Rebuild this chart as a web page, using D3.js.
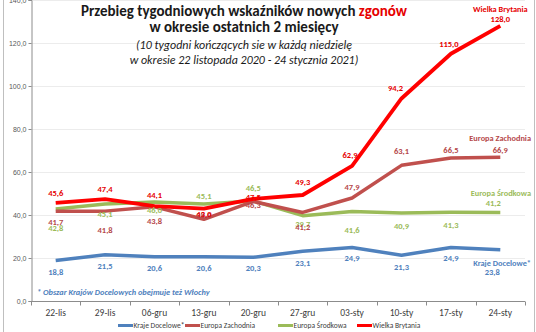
<!DOCTYPE html>
<html><head><meta charset="utf-8">
<script src="https://cdn.jsdelivr.net/npm/d3@7"></script>
<style>
html,body{margin:0;padding:0;background:#fff;}
svg{display:block;font-family:Carlito,Calibri,Lato,"Open Sans",sans-serif;}
</style></head>
<body><svg id="c" width="536" height="332"></svg>
<script>
const categories = ["22-lis","29-lis","06-gru","13-gru","20-gru","27-gru","03-sty","10-sty","17-sty","24-sty"];
const krajeDocelowe   = [18.8, 21.5, 20.6, 20.6, 20.3, 23.1, 24.9, 21.3, 24.9, 23.8];
const europaZachodnia = [41.7, 41.8, 43.8, 38.0, 46.3, 41.2, 47.9, 63.1, 66.5, 66.9];
const europaSrodkowa  = [42.8, 45.1, 46.0, 45.1, 46.5, 39.7, 41.6, 40.9, 41.3, 41.2];
const wielkaBrytania  = [45.6, 47.4, 44.1, 43.0, 47.5, 49.3, 62.9, 94.2, 115.0, 128.0];
const seriesNames = ["Kraje Docelowe*", "Europa Zachodnia", "Europa Środkowa", "Wielka Brytania"];
const yTicks = [0, 20, 40, 60, 80, 100, 120, 140];

const svg = d3.select("#c");
const W = 536, H = 332;
const m = {left: 31, right: 525, top: 0, bottom: 301};

const x = d3.scalePoint().domain(categories).range([m.left, m.right]).padding(0.5);
const y = d3.scaleLinear().domain([0, 140]).range([m.bottom, m.top]);
const fmt = v => d3.format(".1f")(v).replace(".", ",");

// outer frame
svg.append("rect").attr("x", 3.5).attr("y", -2).attr("width", W - 5).attr("height", H + 4)
  .attr("fill", "none").attr("stroke", "#bfbfbf").attr("stroke-width", 1);

// gridlines
svg.append("g").selectAll("line").data(yTicks.filter(d => d > 0)).join("line")
  .attr("x1", m.left).attr("x2", m.right)
  .attr("y1", d => Math.round(y(d)) + 0.5).attr("y2", d => Math.round(y(d)) + 0.5)
  .attr("stroke", "#ececec").attr("stroke-width", 1);

// y axis
const yAxis = d3.axisLeft(y).tickValues(yTicks).tickFormat(fmt).tickSize(3);
const yg = svg.append("g").attr("transform", `translate(${m.left + 0.5},0)`).call(yAxis);
yg.select(".domain").attr("stroke", "#8c8c8c");
yg.selectAll(".tick line").attr("stroke", "#8c8c8c");
yg.selectAll(".tick text").attr("font-size", 7).attr("fill", "#595959").attr("x", -5)
  .attr("font-family", "Liberation Sans, Arial, sans-serif");

// x axis
const xg = svg.append("g").attr("transform", `translate(0,${m.bottom + 0.5})`);
xg.append("line").attr("x1", m.left).attr("x2", m.right).attr("stroke", "#8c8c8c");
const step = x.step();
const bounds = d3.range(categories.length + 1).map(i => m.left + i * step);
xg.selectAll("line.t").data(bounds).join("line").attr("class", "t")
  .attr("x1", d => Math.round(d) + 0.5).attr("x2", d => Math.round(d) + 0.5)
  .attr("y1", 0).attr("y2", 4).attr("stroke", "#8c8c8c");
xg.selectAll("text").data(categories).join("text")
  .attr("x", d => x(d)).attr("y", 14).attr("text-anchor", "middle")
  .attr("font-size", 9.5).attr("fill", "#404040").text(d => d);

// lines
const colors = ["#4f81bd", "#c0504d", "#9bbb59", "#ff0000"];
const labelColors = ["#4f81bd", "#b5484a", "#9bbb59", "#e60000"];
const allData = [krajeDocelowe, europaZachodnia, europaSrodkowa, wielkaBrytania];
const line = d3.line().x((d, i) => x(categories[i])).y(d => y(d));
const widths = [3.5, 3.5, 3.5, 3.8];
const drawOrder = [0, 2, 1, 3];
drawOrder.forEach(s => {
  svg.append("path").datum(allData[s]).attr("d", line)
    .attr("fill", "none").attr("stroke", colors[s]).attr("stroke-width", widths[s])
    .attr("stroke-linejoin", "round").attr("stroke-linecap", "butt");
});

// data labels (layout offsets, in px relative to the point)
const labelDy = [
  [11, 11, 11, 11, 11, 12, 11, 12, 11, 22],
  [11, 19, 14, -4, 4, 15, -11, -14, -8, -7],
  [19, 10, 8, -8, -13, 8, 18, 13, 13, -9],
  [-10, -10, -11, 5, -2, -13, -11, -10, -10, -7]
];
const labelDx = [
  [0, 0, 0, 0, 0, 0, 0, 0, 0, -8],
  [0, 0, 0, 0, 0, 0, 0, 0, 0, 0],
  [0, 0, 0, 0, 0, 0, 0, 0, 0, -7],
  [0, 0, 0, 0, 0, 0, -2, -6, -2, 0]
];
drawOrder.forEach(s => {
  svg.append("g").selectAll("text").data(allData[s]).join("text")
    .attr("x", (d, i) => x(categories[i]) + labelDx[s][i])
    .attr("y", (d, i) => y(d) + labelDy[s][i])
    .attr("dy", "0.35em").attr("text-anchor", "middle")
    .attr("font-size", 8.5).attr("font-weight", "bold").attr("fill", labelColors[s])
    .text(d => fmt(d));
});

// series name labels at end
const last = categories[categories.length - 1];
const nameDy = [13, -19, -19, -19];
[0, 1, 2].forEach(s => {
  svg.append("text").attr("x", 531).attr("y", y(allData[s][9]) + nameDy[s]).attr("dy", "0.35em")
    .attr("text-anchor", "end").attr("font-size", 8.3).attr("font-weight", "bold")
    .attr("fill", labelColors[s]).text(seriesNames[s]);
});
svg.append("text").attr("x", x(last)).attr("y", y(wielkaBrytania[9]) - 17).attr("dy", "0.35em")
  .attr("text-anchor", "middle").attr("font-size", 8.3).attr("font-weight", "bold")
  .attr("fill", labelColors[3]).text(seriesNames[3]);

// title
const t = svg.append("g").attr("text-anchor", "middle");
const t1 = t.append("text").attr("x", 244).attr("y", 16).attr("font-size", 15).attr("font-weight", "bold").attr("fill", "#1a1a1a");
t1.append("tspan").text("Przebieg tygodniowych wskaźników nowych ");
t1.append("tspan").attr("fill", "#e60000").text("zgonów");
t.append("text").attr("x", 244).attr("y", 32).attr("font-size", 15).attr("font-weight", "bold").attr("fill", "#1a1a1a")
  .text("w okresie ostatnich 2 miesięcy");
t.append("text").attr("x", 244).attr("y", 49).attr("font-size", 12).attr("font-style", "italic").attr("fill", "#1a1a1a")
  .text("(10 tygodni kończących sie w każdą niedzielę");
t.append("text").attr("x", 244).attr("y", 64).attr("font-size", 12).attr("font-style", "italic").attr("fill", "#1a1a1a")
  .text("w okresie 22 listopada 2020 - 24 stycznia 2021)");

// footnote
svg.append("text").attr("x", 37).attr("y", 295).attr("font-size", 8.3).attr("font-style", "italic")
  .attr("font-weight", "bold").attr("fill", "#4f81bd")
  .text("* Obszar Krajów Docelowych obejmuje też  Włochy");

// legend
const legX = [118, 185, 278, 357];
const lg = svg.append("g").attr("transform", "translate(0,328)");
seriesNames.forEach((n, s) => {
  lg.append("line").attr("x1", legX[s]).attr("x2", legX[s] + 15).attr("y1", -2.5).attr("y2", -2.5)
    .attr("stroke", colors[s]).attr("stroke-width", 3);
  lg.append("text").attr("x", legX[s] + 15.5).attr("y", 0).attr("font-size", 7.5).attr("fill", "#404040")
    .text(n);
});
</script></body></html>
